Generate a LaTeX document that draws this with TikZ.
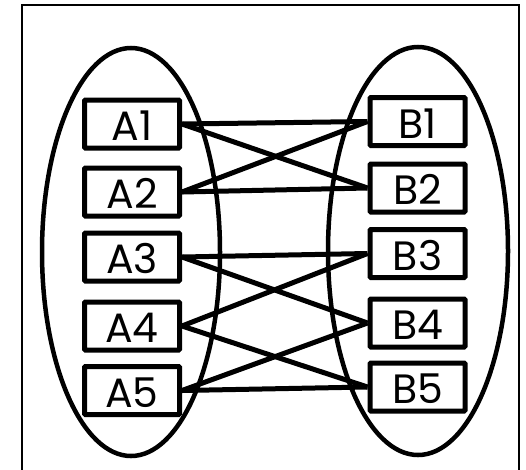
\documentclass[tikz,border=0pt]{standalone}
\usepackage{fontspec}
\setmainfont{Poppins}
\usepackage{tikz}

\begin{document}
\begin{tikzpicture}[x=1pt,y=-1pt]
    \tikzstyle{box}=[draw,line width=5pt,rounded corners=1pt,minimum width=95pt,minimum height=48pt,inner sep=0pt,text height=33pt,text depth=0pt,font=\fontsize{41}{41}\selectfont]
    \tikzstyle{link}=[line width=5pt]
    \useasboundingbox (0,0) rectangle (526,469);
    % frame, open at the bottom
    \draw[line width=2.5pt] (22,480) -- (22,5) -- (519,5) -- (519,480);
    % the two sets
    \draw[line width=4.5pt] (131,252) ellipse [x radius=89, y radius=204];
    \draw[line width=4.5pt] (418,251) ellipse [x radius=90, y radius=204];
    \node[box] (A1) at (132,124) {A1};
    \node[box] (A2) at (132,192) {A2};
    \node[box] (A3) at (132,257) {A3};
    \node[box] (A4) at (132,326) {A4};
    \node[box] (A5) at (132,390.5) {A5};
    \node[box] (B1) at (417.5,121.5) {B1};
    \node[box] (B2) at (417.5,188) {B2};
    \node[box] (B3) at (417.5,253.5) {B3};
    \node[box] (B4) at (417.5,323) {B4};
    \node[box] (B5) at (417.5,387) {B5};
    % connections
    \draw[link] (A1.east) -- (B1.west);
    \draw[link] (A1.east) -- (B2.west);
    \draw[link] (A2.east) -- (B1.west);
    \draw[link] (A2.east) -- (B2.west);
    \draw[link] (A3.east) -- (B3.west);
    \draw[link] (A3.east) -- (B4.west);
    \draw[link] (A4.east) -- (B3.west);
    \draw[link] (A4.east) -- (B5.west);
    \draw[link] (A5.east) -- (B4.west);
    \draw[link] (A5.east) -- (B5.west);
\end{tikzpicture}
\end{document}
